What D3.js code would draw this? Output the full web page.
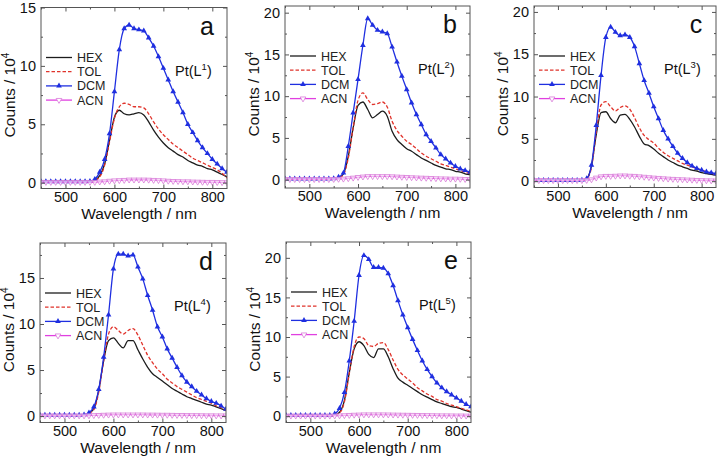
<!DOCTYPE html>
<html><head><meta charset="utf-8">
<script src="https://cdn.jsdelivr.net/npm/d3@7"></script>
<style>body{margin:0;background:#fff;} svg{display:block;font-family:"Liberation Sans",Arial,sans-serif;}</style>
</head><body><svg id="c" width="717" height="461"></svg>
<script>
// ---------- data ----------
const wavelength = d3.range(450, 831, 10);   // nm
const xTicks = [500, 600, 700, 800];
const xMinorTicks = [450, 550, 650, 750];
const solvents = ["HEX", "TOL", "DCM", "ACN"];
const panelLetters = ["a", "b", "c", "d", "e"];
const ligandIndex = ["1", "2", "3", "4", "5"];
const yTicksA = [0, 5, 10, 15];
const yTicksB = [0, 5, 10, 15, 20];
const yTicksC = [0, 5, 10, 15, 20];
const yTicksD = [0, 5, 10, 15];
const yTicksE = [0, 5, 10, 15, 20];
const yDomainA = [-0.5, 15];
const yDomainB = [-1, 20.8];
const yDomainC = [-0.75, 20.7];
const yDomainD = [-0.7, 18.8];
const yDomainE = [-0.8, 22];

const hexA = [0.1,0.1,0.1,0.1,0.1,0.15,0.1,0.1,0.1,0.1,0.1, 0.2,0.6,1.6,3.6,5.6,6.2,5.9,5.8,5.9,6.0,5.8,5.2,4.5,3.9,3.4,3.0,2.7,2.4,2.2,1.9,1.7,1.5,1.4,1.2,1.1,0.9,0.7,0.5];
const tolA = [0.05,0.05,0.05,0.05,0.05,0.05,0.05,0.05,0.05,0.05,0.1, 0.2,0.5,1.5,3.5,5.5,6.5,6.8,6.7,6.5,6.5,6.4,5.9,5.2,4.6,4.1,3.7,3.3,3.0,2.7,2.4,2.1,1.9,1.7,1.5,1.3,1.1,0.8,0.4];
const dcmA = [0.1,0.1,0.1,0.1,0.1,0.1,0.1,0.1,0.1,0.1,0.12, 0.3,0.9,2.0,4.2,7.8,11.4,13.2,13.5,13.2,13.1,13.0,12.4,11.7,10.8,9.8,8.8,7.8,6.9,6.0,5.0,4.3,3.6,3.0,2.5,2.0,1.6,1.2,0.9];
const acnA = [0.05,0.05,0.05,0.05,0.05,0.05,0.05,0.05,0.05,0.05,0.05, 0.05,0.08,0.1,0.15,0.18,0.2,0.22,0.25,0.25,0.25,0.25,0.24,0.22,0.2,0.18,0.15,0.13,0.12,0.1,0.1,0.08,0.07,0.06,0.05,0.05,0.04,0.03,0.02];

const hexB = [0.1,0.1,0.1,0.1,0.1,0.1,0.1,0.1,0.1,0.1,0.1, 0.2,0.7,2.8,6.2,8.9,9.3,8.4,7.4,7.8,8.2,7.6,5.8,4.8,4.2,3.7,3.4,3.0,2.6,2.3,2.0,1.7,1.5,1.3,1.2,1.0,0.9,0.7,0.6];
const tolB = [0.05,0.05,0.05,0.05,0.05,0.05,0.05,0.05,0.05,0.05,0.1, 0.2,0.6,2.6,6.2,9.5,10.4,9.6,9.0,9.1,9.3,8.7,7.0,5.9,5.2,4.6,4.2,3.7,3.2,2.8,2.5,2.2,1.9,1.7,1.5,1.3,1.1,0.9,0.7];
const dcmB = [0.1,0.1,0.1,0.1,0.1,0.1,0.1,0.1,0.1,0.1,0.12, 0.3,0.8,4.0,8.0,12.0,16.1,19.3,18.5,17.9,17.7,17.5,15.9,14.1,12.4,10.8,9.2,7.8,6.6,5.4,4.6,3.8,3.0,2.5,2.0,1.6,1.3,1.1,0.9];
const acnB = [0.05,0.05,0.05,0.05,0.05,0.05,0.05,0.05,0.05,0.05,0.06, 0.08,0.1,0.15,0.22,0.3,0.35,0.4,0.4,0.4,0.4,0.4,0.38,0.35,0.32,0.3,0.27,0.24,0.22,0.2,0.18,0.15,0.13,0.12,0.1,0.1,0.08,0.06,0.05];

const hexC = [0.1,0.1,0.1,0.1,0.1,0.15,0.1,0.1,0.1,0.1,0.1, 0.3,1.8,5.5,8.1,8.2,7.4,6.9,7.8,7.9,7.3,6.4,5.3,4.4,4.2,3.8,3.3,2.9,2.5,2.2,1.9,1.7,1.5,1.3,1.2,1.0,0.9,0.8,0.7];
const tolC = [0.05,0.05,0.05,0.05,0.05,0.05,0.05,0.05,0.05,0.05,0.1, 0.3,1.6,5.8,9.0,9.4,8.8,8.3,8.7,8.9,8.5,7.5,6.3,5.4,4.9,4.5,3.9,3.4,3.0,2.7,2.4,2.1,1.9,1.7,1.5,1.3,1.1,0.9,0.8];
const dcmC = [0.1,0.1,0.1,0.1,0.1,0.1,0.1,0.1,0.1,0.1,0.12, 0.3,1.9,6.6,12.5,17.0,18.2,17.6,17.2,17.3,17.0,15.9,13.9,11.9,10.4,8.8,7.4,6.0,5.0,4.1,3.3,2.7,2.2,1.8,1.5,1.3,1.1,1.0,0.9];
const acnC = [0.1,0.1,0.1,0.1,0.1,0.1,0.1,0.1,0.1,0.1,0.1, 0.12,0.2,0.4,0.55,0.6,0.6,0.62,0.65,0.65,0.62,0.6,0.55,0.5,0.45,0.4,0.36,0.32,0.28,0.25,0.22,0.2,0.17,0.15,0.12,0.1,0.08,0.07,0.05];

const hexD = [0.1,0.1,0.1,0.1,0.1,0.15,0.1,0.1,0.1,0.1, 0.3,0.8,2.8,6.0,8.2,8.5,7.9,7.4,8.2,8.2,7.2,6.2,5.3,4.6,4.2,3.8,3.4,3.0,2.7,2.4,2.1,1.9,1.7,1.5,1.3,1.2,1.0,0.8,0.6];
const tolD = [0.05,0.05,0.05,0.05,0.05,0.05,0.05,0.05,0.05,0.1, 0.3,0.7,2.6,6.0,8.9,9.7,9.3,8.9,9.3,9.5,8.8,7.7,6.6,5.8,5.1,4.6,4.0,3.6,3.2,2.9,2.6,2.3,2.0,1.8,1.6,1.4,1.1,0.9,0.6];
const dcmD = [0.1,0.1,0.1,0.1,0.1,0.1,0.1,0.1,0.1,0.15, 0.35,1.0,2.9,6.4,11.0,16.0,17.6,17.6,17.4,17.5,16.2,14.9,13.1,11.5,9.7,8.6,7.3,6.3,5.3,4.4,3.7,3.2,2.7,2.3,1.9,1.6,1.4,1.1,0.75];
const acnD = [0.05,0.05,0.05,0.05,0.05,0.05,0.05,0.05,0.05,0.05, 0.06,0.08,0.1,0.12,0.14,0.15,0.15,0.15,0.15,0.15,0.15,0.15,0.14,0.14,0.13,0.12,0.12,0.11,0.1,0.1,0.09,0.08,0.08,0.07,0.06,0.06,0.05,0.05,0.05];

const hexE = [0.1,0.1,0.1,0.1,0.1,0.15,0.1,0.1,0.1,0.1,0.15, 0.5,2.0,5.5,8.5,9.4,8.9,7.8,7.4,8.5,8.5,7.5,6.0,4.8,4.3,3.9,3.5,3.1,2.7,2.4,2.1,1.8,1.6,1.4,1.2,1.1,0.9,0.7,0.5];
const tolE = [0.05,0.05,0.05,0.05,0.05,0.05,0.05,0.05,0.05,0.05,0.1, 0.4,1.8,5.4,8.8,10.0,9.8,8.9,8.8,9.2,9.3,8.4,7.1,5.9,5.2,4.7,4.2,3.6,3.2,2.8,2.5,2.1,1.9,1.6,1.4,1.2,1.0,0.8,0.6];
const dcmE = [0.1,0.1,0.1,0.1,0.1,0.1,0.1,0.1,0.1,0.1,0.3, 1.0,3.0,7.0,12.0,17.8,20.3,19.8,18.8,18.8,18.7,18.0,16.5,14.6,12.8,11.2,9.7,8.3,7.0,5.9,5.0,4.2,3.6,3.1,2.7,2.3,1.9,1.5,1.2];
const acnE = [0.05,0.05,0.05,0.05,0.05,0.05,0.05,0.05,0.05,0.05,0.06, 0.08,0.1,0.13,0.16,0.18,0.2,0.2,0.2,0.2,0.2,0.19,0.18,0.17,0.16,0.15,0.14,0.13,0.12,0.11,0.1,0.09,0.08,0.08,0.07,0.06,0.06,0.05,0.05];

// ---------- layout / style ----------
const frames = [
  {left:41,  right:227, top:7.5, bottom:188.5},
  {left:285, right:470, top:6,   bottom:188},
  {left:534, right:716, top:6,   bottom:187.5},
  {left:40,  right:226, top:243, bottom:422.5},
  {left:286, right:471, top:242, bottom:422.5}
];
const seriesSets = [
  [hexA, tolA, dcmA, acnA],
  [hexB, tolB, dcmB, acnB],
  [hexC, tolC, dcmC, acnC],
  [hexD, tolD, dcmD, acnD],
  [hexE, tolE, dcmE, acnE]
];
const yTickSets = [yTicksA, yTicksB, yTicksC, yTicksD, yTicksE];
const yDomains = [yDomainA, yDomainB, yDomainC, yDomainD, yDomainE];

const colors = {HEX:"#1c1c1c", TOL:"#e0332b", DCM:"#1f2fe0", ACN:"#e040e0"};
const dashes = {HEX:null, TOL:"3.5,2", DCM:null, ACN:null};
const axisColor = "#555";
const font = "Liberation Sans, Arial, sans-serif";

const svg = d3.select("#c");
const defs = svg.append("defs");
const triUp = d3.symbol().type(d3.symbolTriangle).size(14);
const triDown = d3.symbol().type(d3.symbolTriangle).size(14);

function styleAxis(sel, withText) {
  sel.select(".domain").remove();
  sel.selectAll("line").attr("stroke", axisColor);
  if (withText) sel.selectAll("text").attr("font-size", 14.5).attr("fill", "#111").attr("font-family", font);
}

frames.forEach((f, pi) => {
  const x = d3.scaleLinear().domain([450, 830]).range([f.left, f.right]);
  const y = d3.scaleLinear().domain(yDomains[pi]).range([f.bottom, f.top]);
  const g = svg.append("g");
  const clipId = "clip" + pi;
  defs.append("clipPath").attr("id", clipId).append("rect")
    .attr("x", f.left).attr("y", f.top).attr("width", f.right - f.left).attr("height", f.bottom - f.top);

  // data
  const plot = g.append("g").attr("clip-path", `url(#${clipId})`);
  const line = d3.line().x((d, i) => x(wavelength[i])).y(d => y(d)).curve(d3.curveMonotoneX);
  solvents.forEach((s, si) => {
    const vals = seriesSets[pi][si];
    plot.append("path").attr("d", line(vals)).attr("fill", "none")
      .attr("stroke", colors[s]).attr("stroke-width", 1.3)
      .attr("stroke-dasharray", dashes[s]);
    if (s === "DCM") {
      plot.selectAll(null).data(vals).enter().append("path")
        .attr("d", triUp).attr("transform", (d, i) => `translate(${x(wavelength[i])},${y(d)})`)
        .attr("fill", colors.DCM);
    }
    if (s === "ACN") {
      plot.selectAll(null).data(vals).enter().append("path")
        .attr("d", triDown).attr("transform", (d, i) => `translate(${x(wavelength[i])},${y(d)}) rotate(180)`)
        .attr("fill", "#fff").attr("fill-opacity", 0.6).attr("stroke", "#d878d8").attr("stroke-width", 0.8);
    }
  });

  // frame
  g.append("rect").attr("x", f.left).attr("y", f.top).attr("width", f.right - f.left).attr("height", f.bottom - f.top)
    .attr("fill", "none").attr("stroke", axisColor).attr("stroke-width", 1);

  // bottom axis (inward ticks)
  styleAxis(g.append("g").attr("transform", `translate(0,${f.bottom})`)
    .call(d3.axisBottom(x).tickValues(xTicks).tickSize(-4).tickPadding(3).tickFormat(d3.format("d"))), true);
  styleAxis(g.append("g").attr("transform", `translate(0,${f.bottom})`)
    .call(d3.axisBottom(x).tickValues(xMinorTicks).tickSize(-2).tickFormat("")), false);
  // top mirrored ticks
  styleAxis(g.append("g").attr("transform", `translate(0,${f.top})`)
    .call(d3.axisTop(x).tickValues(xTicks).tickSize(-4).tickFormat("")), false);
  styleAxis(g.append("g").attr("transform", `translate(0,${f.top})`)
    .call(d3.axisTop(x).tickValues(xMinorTicks).tickSize(-2).tickFormat("")), false);

  // left axis
  const yt = yTickSets[pi];
  const yMinor = d3.range(2.5, yDomains[pi][1], 5);
  styleAxis(g.append("g").attr("transform", `translate(${f.left},0)`)
    .call(d3.axisLeft(y).tickValues(yt).tickSize(-4).tickPadding(5).tickFormat(d3.format("d"))), true);
  styleAxis(g.append("g").attr("transform", `translate(${f.left},0)`)
    .call(d3.axisLeft(y).tickValues(yMinor).tickSize(-2).tickFormat("")), false);
  // right mirrored ticks
  styleAxis(g.append("g").attr("transform", `translate(${f.right},0)`)
    .call(d3.axisRight(y).tickValues(yt).tickSize(-4).tickFormat("")), false);
  styleAxis(g.append("g").attr("transform", `translate(${f.right},0)`)
    .call(d3.axisRight(y).tickValues(yMinor).tickSize(-2).tickFormat("")), false);

  // axis titles
  g.append("text").attr("x", (f.left + f.right) / 2 + 5).attr("y", f.bottom + 30)
    .attr("text-anchor", "middle").attr("font-size", 15.5).attr("fill", "#111").text("Wavelength / nm");
  const yt2 = g.append("text").attr("transform", `translate(${f.left - 26},${(f.top + f.bottom) / 2 - 3}) rotate(-90)`)
    .attr("text-anchor", "middle").attr("font-size", 15.5).attr("fill", "#111");
  yt2.append("tspan").text("Counts / 10");
  yt2.append("tspan").attr("font-size", 10).attr("dy", -6).text("4");

  // panel letter
  g.append("text").attr("x", f.right - 20).attr("y", f.top + 27).attr("text-anchor", "middle")
    .attr("font-size", 25).attr("fill", "#111").text(panelLetters[pi]);
  // compound label
  const pt = g.append("text").attr("x", f.right - 52).attr("y", f.top + 68).attr("font-size", 14.5).attr("fill", "#111");
  pt.append("tspan").text("Pt(L");
  pt.append("tspan").attr("font-size", 9.5).attr("dy", -6).text(ligandIndex[pi]);
  pt.append("tspan").attr("dy", 6).text(")");

  // legend
  solvents.forEach((s, si) => {
    const ly = f.top + 50 + si * 14.2;
    const x0 = f.left + 5, x1 = f.left + 31;
    g.append("line").attr("x1", x0).attr("x2", x1).attr("y1", ly).attr("y2", ly)
      .attr("stroke", colors[s]).attr("stroke-width", 1.3).attr("stroke-dasharray", dashes[s]);
    if (s === "DCM") g.append("path").attr("d", triUp).attr("transform", `translate(${(x0 + x1) / 2},${ly})`).attr("fill", colors.DCM);
    if (s === "ACN") g.append("path").attr("d", triDown).attr("transform", `translate(${(x0 + x1) / 2},${ly}) rotate(180)`)
      .attr("fill", "#fff").attr("stroke", "#d878d8").attr("stroke-width", 0.8);
    g.append("text").attr("x", f.left + 36).attr("y", ly + 4.5).attr("font-size", 12.5).attr("fill", "#222").text(s);
  });
});
</script>
</body></html>
